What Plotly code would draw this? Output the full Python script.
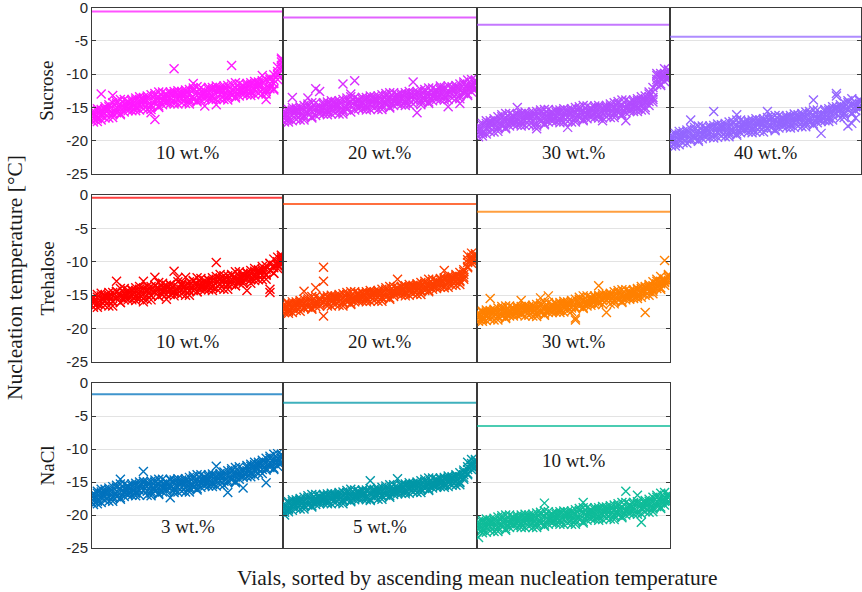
import plotly.graph_objects as go

# Vial index (vials sorted by ascending mean nucleation temperature)
vials = list(range(1, 51))

# ---- Sucrose: nucleation temperatures [°C], five freeze cycles per vial ----
sucrose_10_run1 = [-15.8,-16.5,-13.0,-16.6,-15.3,-16.5,-14.4,-15.1,-14.5,-15.5,
 -14.1,-14.9,-13.4,-15.2,-14.0,-15.3,-13.2,-14.0,-13.4,-14.4,
 -13.0,-9.2,-12.5,-14.3,-13.1,-14.5,-12.4,-13.2,-12.7,-13.7,
 -12.3,-13.3,-11.8,-13.7,-12.5,-13.9,-8.7,-12.6,-12.1,-13.1,
 -11.7,-12.6,-11.1,-12.9,-10.2,-13.0,-10.8,-11.4,-9.6,-9.0]
sucrose_10_run2 = [-17.2,-15.2,-16.2,-15.2,-16.6,-13.2,-15.8,-13.8,-15.1,-14.1,
 -15.5,-13.6,-14.7,-13.8,-15.3,-15.8,-16.8,-12.7,-14.0,-13.0,
 -14.4,-12.6,-13.8,-12.9,-14.4,-13.0,-13.8,-11.9,-13.3,-14.8,
 -13.7,-12.0,-14.6,-12.3,-13.8,-12.4,-13.2,-11.3,-12.7,-11.7,
 -13.1,-11.3,-12.4,-11.5,-13.0,-13.8,-12.2,-10.1,-10.2,-7.6]
sucrose_10_run3 = [-16.3,-17.1,-15.3,-15.4,-14.6,-15.8,-15.0,-15.9,-13.8,-15.2,
 -14.6,-15.5,-13.8,-14.0,-13.3,-14.6,-13.8,-14.8,-12.7,-14.1,
 -13.5,-14.5,-12.9,-13.1,-12.4,-13.8,-11.4,-14.0,-12.0,-13.4,
 -12.8,-13.9,-12.2,-12.5,-11.8,-13.2,-12.4,-13.4,-11.4,-12.8,
 -12.2,-13.2,-11.5,-11.7,-11.0,-12.3,-11.4,-12.2,-8.9,-8.7]
sucrose_10_run4 = [-16.7,-15.5,-16.9,-14.9,-16.0,-14.3,-15.4,-14.6,-15.7,-14.7,
 -15.0,-13.9,-15.4,-13.5,-14.7,-13.1,-14.2,-13.5,-14.6,-13.6,
 -13.9,-12.9,-14.5,-12.6,-13.8,-12.3,-13.4,-12.7,-13.9,-12.9,
 -13.2,-12.3,-13.8,-12.0,-13.2,-11.7,-12.8,-12.1,-13.3,-12.3,
 -12.6,-11.6,-13.1,-11.2,-12.4,-10.8,-11.8,-10.9,-10.8,-8.2]
sucrose_10_run5 = [-15.5,-16.7,-15.6,-15.9,-14.9,-16.1,-14.1,-16.1,-14.9,-14.3,
 -13.8,-15.1,-14.1,-14.5,-13.6,-14.9,-12.9,-15.0,-13.8,-13.2,
 -12.7,-14.1,-13.2,-13.6,-12.7,-14.1,-12.1,-14.2,-13.1,-12.5,
 -12.0,-13.5,-12.5,-13.0,-12.1,-13.5,-11.5,-13.6,-12.5,-11.9,
 -11.4,-12.8,-11.8,-12.2,-11.3,-12.6,-10.5,-12.4,-10.0,-7.8]

sucrose_20_run1 = [-17.2,-15.3,-13.5,-15.4,-16.9,-15.4,-13.6,-14.3,-12.2,-12.6,
 -16.0,-14.2,-15.3,-14.4,-16.0,-11.5,-15.3,-13.4,-11.0,-13.8,
 -15.2,-13.5,-14.6,-13.7,-15.3,-13.8,-14.6,-12.8,-14.1,-13.1,
 -14.6,-12.8,-13.9,-11.2,-15.8,-13.1,-14.0,-12.1,-13.4,-12.4,
 -13.8,-12.0,-13.1,-12.2,-13.7,-12.2,-12.9,-10.9,-12.1,-10.9]
sucrose_20_run2 = [-16.3,-17.2,-15.4,-15.6,-14.9,-16.2,-15.4,-16.4,-14.3,-15.7,
 -15.1,-16.1,-14.4,-14.6,-14.0,-15.3,-14.5,-13.0,-13.5,-14.9,
 -14.3,-15.4,-13.7,-13.9,-13.3,-14.6,-13.8,-14.9,-12.8,-14.2,
 -13.7,-14.7,-13.0,-13.3,-12.6,-13.9,-13.2,-14.2,-12.1,-13.5,
 -11.8,-13.9,-14.9,-12.4,-11.7,-14.4,-12.1,-13.0,-10.8,-12.0]
sucrose_20_run3 = [-15.8,-16.6,-15.0,-16.8,-15.6,-16.9,-14.8,-15.6,-15.0,-16.0,
 -14.6,-15.5,-14.0,-15.8,-14.7,-16.0,-13.9,-14.7,-14.2,-15.2,
 -13.8,-14.8,-13.3,-15.1,-14.0,-15.3,-13.2,-14.1,-13.5,-14.5,
 -13.2,-14.1,-12.6,-14.5,-13.3,-14.6,-12.6,-13.4,-12.8,-13.8,
 -12.4,-13.3,-11.8,-13.6,-12.4,-13.7,-11.5,-12.2,-11.5,-12.3]
sucrose_20_run4 = [-16.7,-15.6,-17.0,-15.1,-16.3,-14.7,-15.8,-15.1,-16.2,-15.2,
 -15.5,-14.5,-16.0,-14.1,-15.4,-13.8,-14.9,-14.2,-15.4,-14.4,
 -14.7,-13.8,-15.3,-13.4,-14.7,-13.1,-14.2,-13.6,-14.7,-13.7,
 -14.1,-13.1,-14.6,-12.8,-14.0,-12.4,-13.6,-12.9,-14.0,-13.0,
 -13.3,-12.3,-13.8,-11.9,-13.1,-11.5,-12.5,-11.7,-12.7,-11.5]
sucrose_20_run5 = [-15.5,-16.8,-15.7,-16.1,-15.2,-16.5,-14.5,-16.6,-15.4,-14.8,
 -14.3,-15.7,-14.7,-15.1,-14.3,-15.6,-13.6,-15.7,-14.6,-14.0,
 -13.5,-15.0,-14.0,-14.4,-13.6,-14.9,-12.9,-15.1,-13.9,-13.3,
 -12.9,-14.3,-13.3,-13.8,-12.9,-14.2,-12.3,-14.4,-13.2,-12.6,
 -12.1,-13.5,-12.5,-12.9,-12.0,-13.3,-11.2,-13.2,-11.9,-11.1]

sucrose_30_run1 = [-18.5,-19.3,-17.4,-17.5,-16.7,-17.9,-17.0,-18.0,-15.9,-17.3,
 -15.0,-17.8,-16.1,-16.4,-15.7,-18.2,-16.3,-17.4,-15.3,-16.8,
 -16.2,-17.3,-15.6,-18.0,-15.2,-16.5,-15.8,-16.8,-14.8,-16.2,
 -15.6,-16.6,-15.0,-15.2,-14.5,-15.8,-15.0,-16.0,-13.9,-15.3,
 -14.7,-15.6,-13.8,-13.8,-12.7,-13.5,-10.8,-11.5,-9.2,-10.4]
sucrose_30_run2 = [-18.0,-18.7,-17.0,-18.7,-17.4,-18.6,-16.4,-17.2,-16.6,-17.6,
 -16.2,-17.2,-15.7,-17.6,-16.4,-17.8,-15.7,-16.6,-16.0,-17.1,
 -15.7,-16.7,-15.2,-17.1,-15.9,-17.2,-15.2,-16.0,-15.5,-16.5,
 -15.1,-16.0,-17.0,-16.4,-15.2,-16.5,-14.4,-15.2,-17.0,-15.6,
 -14.2,-15.0,-13.4,-15.0,-13.4,-14.2,-10.2,-10.7,-9.9,-10.7]
sucrose_30_run3 = [-19.4,-17.4,-18.3,-17.3,-18.7,-17.1,-17.8,-15.9,-17.2,-16.2,
 -17.6,-15.9,-17.0,-16.2,-17.7,-16.3,-17.1,-15.3,-16.6,-15.7,
 -17.1,-15.4,-16.5,-15.7,-17.2,-15.7,-16.6,-14.7,-16.1,-15.1,
 -16.5,-14.7,-15.9,-15.0,-16.5,-15.0,-15.8,-13.9,-15.2,-14.2,
 -15.6,-13.7,-14.7,-15.4,-14.7,-12.7,-11.6,-9.9,-10.5,-9.3]
sucrose_30_run4 = [-18.9,-17.7,-19.0,-17.0,-18.1,-16.4,-17.4,-16.7,-17.8,-16.8,
 -17.1,-16.2,-17.7,-15.9,-17.1,-15.6,-16.7,-16.1,-17.2,-16.3,
 -16.6,-15.7,-17.2,-15.4,-16.6,-15.0,-16.2,-15.5,-16.7,-15.7,
 -16.0,-15.0,-16.6,-14.7,-15.9,-14.3,-15.4,-14.7,-15.8,-14.8,
 -15.1,-14.0,-15.4,-13.3,-14.1,-12.0,-11.2,-10.2,-11.1,-9.9]
sucrose_30_run5 = [-17.7,-18.9,-17.7,-18.0,-17.0,-18.2,-16.1,-18.2,-17.0,-16.4,
 -15.9,-17.4,-16.4,-16.9,-16.0,-17.4,-15.4,-17.6,-16.4,-15.9,
 -15.4,-16.9,-15.9,-16.4,-15.5,-16.8,-14.9,-17.0,-15.9,-15.3,
 -14.8,-16.2,-15.3,-15.7,-14.8,-16.1,-14.1,-16.2,-15.0,-14.4,
 -13.9,-15.2,-14.1,-14.3,-13.0,-13.8,-9.9,-11.7,-10.3,-9.5]

sucrose_40_run1 = [-19.4,-20.2,-18.6,-20.3,-19.1,-16.9,-18.3,-19.1,-18.5,-19.5,
 -18.1,-15.6,-17.5,-19.3,-18.1,-19.4,-17.4,-16.1,-17.6,-18.6,
 -17.3,-18.2,-16.7,-18.6,-17.4,-15.6,-16.7,-17.5,-16.9,-17.9,
 -16.6,-17.5,-16.0,-17.8,-16.6,-17.9,-15.9,-13.9,-16.1,-17.1,
 -15.6,-16.5,-14.9,-12.9,-15.3,-16.5,-14.3,-17.4,-14.3,-15.2]
sucrose_40_run2 = [-20.8,-18.9,-19.9,-18.9,-20.4,-18.9,-19.7,-17.8,-19.1,-18.1,
 -19.5,-17.7,-18.8,-17.9,-19.4,-17.9,-18.8,-16.9,-18.2,-17.2,
 -18.7,-16.9,-18.0,-17.2,-18.7,-17.2,-18.1,-16.2,-17.5,-16.5,
 -18.0,-16.2,-17.3,-16.4,-17.9,-16.4,-17.3,-15.4,-16.7,-18.9,
 -17.0,-15.2,-16.2,-15.2,-16.6,-15.0,-17.8,-13.7,-14.9,-13.8]
sucrose_40_run3 = [-19.9,-20.8,-19.0,-19.1,-18.4,-19.7,-18.9,-19.9,-17.8,-19.2,
 -18.6,-19.6,-17.9,-18.1,-17.4,-18.7,-18.0,-19.0,-16.9,-18.3,
 -17.8,-18.8,-17.1,-17.4,-16.7,-18.1,-17.3,-18.3,-16.2,-17.6,
 -17.1,-18.1,-16.4,-16.6,-15.9,-17.2,-16.5,-17.5,-15.4,-16.8,
 -16.1,-17.1,-15.3,-13.3,-14.6,-15.8,-14.9,-15.8,-16.6,-14.9]
sucrose_40_run4 = [-20.3,-19.2,-20.6,-18.6,-19.8,-18.2,-19.3,-18.6,-19.7,-18.7,
 -19.0,-18.0,-19.5,-17.6,-18.8,-17.2,-18.4,-17.7,-18.8,-17.8,
 -18.2,-17.2,-18.7,-16.9,-18.1,-16.5,-17.7,-17.0,-18.1,-17.1,
 -17.5,-16.5,-18.0,-16.1,-17.3,-15.7,-16.9,-16.2,-17.3,-16.3,
 -16.5,-15.5,-16.9,-14.9,-16.0,-14.3,-15.3,-14.5,-15.5,-14.4]
sucrose_40_run5 = [-19.1,-20.4,-19.3,-19.6,-18.7,-20.0,-18.0,-20.1,-18.9,-18.3,
 -17.8,-19.2,-18.2,-18.6,-17.7,-19.0,-17.1,-19.2,-18.0,-17.4,
 -17.0,-18.4,-17.4,-17.9,-17.0,-18.3,-16.4,-18.5,-17.3,-16.7,
 -16.3,-17.7,-16.7,-17.1,-16.2,-17.5,-15.6,-17.7,-16.5,-15.9,
 -15.3,-16.7,-15.6,-15.9,-14.9,-16.1,-14.0,-16.0,-14.7,-14.0]

# ---- Trehalose ----
trehalose_10_run1 = [-16.8,-14.9,-16.0,-15.1,-16.6,-15.1,-12.9,-14.0,-15.3,-14.3,
 -15.7,-13.9,-15.0,-12.9,-15.7,-14.2,-12.3,-13.1,-14.5,-13.5,
 -14.9,-11.4,-14.3,-13.4,-15.0,-13.5,-14.3,-12.4,-13.8,-12.8,
 -14.2,-12.4,-10.1,-12.6,-14.1,-12.6,-13.4,-11.5,-12.8,-11.8,
 -14.3,-11.3,-12.3,-11.3,-12.7,-11.1,-14.1,-9.6,-10.6,-9.1]
trehalose_10_run2 = [-15.9,-16.8,-15.1,-15.3,-14.6,-15.9,-15.1,-16.1,-14.0,-15.4,
 -14.8,-15.8,-14.1,-16.0,-13.7,-15.0,-14.2,-15.2,-13.2,-15.6,
 -14.0,-15.1,-12.4,-13.6,-12.3,-14.3,-13.5,-14.5,-12.5,-13.9,
 -13.3,-14.3,-12.6,-11.9,-12.1,-13.4,-12.6,-13.6,-11.5,-12.9,
 -12.2,-13.2,-11.4,-11.5,-10.7,-11.9,-14.6,-11.7,-9.3,-10.2]
trehalose_10_run3 = [-15.4,-16.2,-14.7,-16.5,-15.3,-16.6,-14.5,-15.3,-14.7,-15.7,
 -14.3,-15.2,-13.7,-15.5,-14.4,-15.7,-13.6,-14.4,-13.9,-14.9,
 -13.5,-14.5,-13.0,-14.8,-13.7,-15.0,-12.9,-13.7,-13.2,-14.2,
 -12.8,-13.7,-12.2,-14.0,-12.8,-14.1,-12.0,-12.8,-12.2,-13.2,
 -11.7,-12.6,-11.0,-12.7,-11.4,-12.6,-10.3,-10.9,-10.0,-9.0]
trehalose_10_run4 = [-16.2,-15.3,-16.5,-15.0,-15.9,-14.6,-15.5,-14.9,-15.7,-14.9,
 -15.1,-14.3,-15.5,-14.0,-15.0,-13.7,-14.6,-14.0,-14.9,-14.1,
 -14.3,-13.6,-14.8,-13.3,-14.3,-13.0,-13.9,-13.3,-14.2,-13.4,
 -13.6,-12.8,-14.0,-12.5,-13.4,-12.1,-13.0,-12.4,-13.2,-12.4,
 -12.5,-11.7,-12.8,-11.2,-12.0,-10.6,-11.3,-10.5,-11.0,-9.7]
trehalose_10_run5 = [-15.3,-16.3,-15.5,-15.8,-15.0,-16.0,-14.4,-16.1,-15.1,-14.6,
 -14.2,-15.3,-14.5,-14.8,-14.1,-15.1,-13.5,-15.2,-14.3,-13.8,
 -13.4,-14.6,-13.8,-14.1,-13.4,-14.4,-12.8,-14.5,-13.6,-13.1,
 -12.7,-13.8,-13.0,-13.3,-12.5,-13.5,-11.9,-13.6,-12.6,-12.1,
 -11.6,-12.7,-11.8,-12.0,-11.1,-12.0,-10.2,-11.7,-10.4,-9.4]

trehalose_20_run1 = [-16.5,-17.2,-16.0,-17.3,-16.3,-14.4,-15.7,-16.3,-13.9,-16.6,
 -10.8,-16.1,-15.0,-16.4,-15.4,-16.6,-14.9,-15.6,-15.1,-15.9,
 -14.8,-15.5,-14.3,-15.8,-14.8,-15.9,-14.2,-14.8,-14.3,-12.6,
 -13.9,-14.6,-13.4,-14.8,-13.8,-14.9,-13.2,-13.7,-13.2,-14.0,
 -12.7,-11.3,-12.2,-13.5,-12.4,-13.4,-11.5,-10.1,-9.3,-10.0]
trehalose_20_run2 = [-17.6,-16.2,-17.0,-16.2,-17.4,-16.2,-16.8,-15.2,-16.3,-15.4,
 -12.9,-15.1,-16.0,-15.3,-16.5,-15.4,-16.0,-14.5,-15.6,-14.7,
 -15.9,-14.5,-15.3,-14.7,-15.9,-14.7,-15.3,-13.7,-14.8,-13.9,
 -15.0,-13.6,-14.4,-13.7,-14.9,-13.7,-14.3,-12.6,-13.7,-12.8,
 -13.8,-12.4,-13.2,-12.4,-13.5,-12.2,-12.6,-9.0,-9.8,-8.8]
trehalose_20_run3 = [-16.9,-17.7,-16.3,-16.4,-15.8,-16.8,-16.1,-16.9,-15.2,-16.3,
 -18.1,-16.6,-15.3,-15.5,-14.9,-16.0,-15.3,-16.2,-14.5,-15.6,
 -15.2,-16.0,-14.6,-14.9,-14.3,-15.3,-14.6,-15.4,-13.7,-14.8,
 -14.3,-15.1,-13.7,-13.9,-13.3,-14.3,-13.6,-14.3,-12.6,-13.7,
 -13.1,-13.9,-12.5,-12.6,-11.9,-12.8,-11.9,-10.7,-8.7,-9.7]
trehalose_20_run4 = [-17.2,-16.4,-17.6,-16.0,-16.9,-15.6,-16.5,-15.9,-16.7,-15.9,
 -16.1,-15.3,-16.6,-15.1,-16.0,-14.8,-15.7,-15.2,-16.0,-15.2,
 -15.5,-14.7,-15.9,-14.5,-15.4,-14.1,-15.0,-14.4,-15.2,-14.4,
 -14.6,-13.8,-15.0,-13.5,-14.4,-13.1,-14.0,-13.3,-14.1,-13.3,
 -13.4,-12.6,-13.8,-12.2,-13.0,-11.6,-12.3,-9.7,-10.2,-9.3]
trehalose_20_run5 = [-16.3,-17.4,-16.6,-16.8,-16.0,-17.0,-15.4,-17.1,-16.1,-15.6,
 -15.2,-16.3,-15.6,-15.9,-15.1,-16.2,-14.6,-16.4,-15.4,-14.9,
 -14.6,-15.7,-14.9,-15.3,-14.5,-15.5,-13.9,-15.6,-14.6,-14.1,
 -13.7,-14.8,-14.0,-14.3,-13.5,-14.5,-12.9,-14.5,-13.5,-13.0,
 -12.5,-13.6,-12.8,-13.0,-12.1,-13.0,-11.2,-10.9,-9.6,-9.0]

trehalose_30_run1 = [-18.2,-18.9,-17.5,-15.5,-17.1,-18.1,-17.4,-18.3,-16.6,-17.8,
 -17.3,-15.8,-16.8,-17.1,-16.5,-17.6,-15.4,-17.8,-16.1,-17.3,
 -16.8,-17.6,-16.2,-16.4,-15.8,-16.8,-16.0,-16.8,-15.1,-16.2,
 -15.7,-13.6,-15.1,-15.3,-14.7,-15.7,-15.0,-15.9,-14.2,-15.3,
 -14.8,-15.5,-14.0,-17.6,-13.4,-14.2,-13.3,-13.9,-9.8,-12.8]
trehalose_30_run2 = [-17.8,-18.4,-17.2,-18.6,-17.6,-18.7,-17.0,-17.7,-17.2,-18.1,
 -16.9,-17.7,-16.5,-18.0,-17.0,-18.2,-16.5,-17.2,-15.1,-17.6,
 -16.4,-17.1,-15.9,-17.3,-16.3,-18.7,-15.6,-16.2,-15.7,-16.5,
 -15.3,-16.0,-14.8,-17.6,-15.2,-16.3,-14.6,-15.3,-14.8,-15.6,
 -14.4,-15.0,-13.7,-15.0,-13.9,-14.8,-12.9,-13.3,-12.6,-13.1]
trehalose_30_run3 = [-18.9,-17.4,-18.2,-17.5,-18.7,-17.5,-18.1,-16.6,-17.7,-16.9,
 -18.0,-16.7,-17.5,-16.9,-18.1,-17.0,-17.6,-16.1,-17.2,-16.4,
 -17.5,-16.1,-16.9,-16.2,-17.4,-18.4,-16.7,-15.1,-16.2,-15.3,
 -16.4,-15.0,-15.8,-15.1,-16.3,-15.1,-15.7,-14.2,-15.3,-14.4,
 -15.5,-14.0,-14.7,-13.9,-15.0,-13.6,-14.0,-12.2,-13.1,-11.9]
trehalose_30_run4 = [-18.5,-17.6,-18.8,-17.3,-18.2,-16.9,-17.8,-17.3,-18.1,-17.4,
 -17.6,-16.9,-18.1,-16.7,-17.6,-16.4,-17.3,-16.8,-17.6,-16.9,
 -17.1,-16.3,-17.5,-16.0,-16.9,-15.6,-16.4,-15.8,-16.6,-15.8,
 -16.0,-15.2,-16.4,-14.9,-15.8,-14.5,-15.4,-14.9,-15.7,-14.9,
 -15.1,-14.2,-15.3,-13.7,-14.5,-13.0,-13.7,-12.9,-13.5,-12.4]
trehalose_30_run5 = [-17.6,-18.6,-17.8,-18.1,-17.3,-18.3,-16.7,-18.5,-17.5,-17.1,
 -16.7,-17.9,-17.1,-17.5,-16.7,-17.8,-16.2,-18.0,-17.0,-16.6,
 -16.2,-17.3,-16.5,-16.8,-16.0,-17.0,-15.3,-17.0,-16.0,-15.5,
 -15.1,-16.2,-15.4,-15.7,-14.9,-15.9,-14.3,-16.1,-15.1,-14.6,
 -14.2,-15.2,-14.3,-14.5,-13.6,-14.4,-12.6,-14.1,-12.9,-12.1]

# ---- NaCl ----
nacl_3_run1 = [-17.0,-17.7,-16.1,-17.8,-16.6,-17.9,-15.8,-14.6,-16.0,-17.0,
 -15.6,-16.5,-15.0,-13.4,-15.7,-17.1,-15.0,-15.9,-15.3,-16.4,
 -17.4,-16.0,-14.5,-16.4,-15.2,-16.5,-14.4,-15.2,-14.6,-15.6,
 -14.2,-15.1,-12.6,-15.4,-14.2,-16.6,-13.3,-14.1,-13.4,-14.3,
 -12.8,-13.6,-12.0,-13.7,-12.4,-15.1,-11.4,-12.1,-11.4,-12.2]
nacl_3_run2 = [-18.4,-16.4,-17.4,-16.4,-17.9,-16.4,-17.2,-15.3,-16.6,-15.6,
 -17.0,-15.2,-16.3,-14.9,-17.0,-15.6,-16.4,-14.6,-15.9,-15.0,
 -14.6,-14.7,-15.8,-15.0,-16.5,-15.0,-15.8,-13.9,-15.2,-14.2,
 -15.6,-13.8,-14.9,-14.0,-15.5,-14.0,-14.7,-12.8,-14.0,-15.9,
 -14.2,-12.3,-13.3,-12.3,-13.7,-12.1,-12.8,-10.8,-12.0,-10.8]
nacl_3_run3 = [-17.5,-18.3,-16.5,-16.6,-15.9,-17.2,-16.4,-17.4,-15.3,-16.7,
 -16.1,-17.1,-15.4,-15.7,-15.0,-16.4,-15.6,-16.7,-14.6,-16.1,
 -15.5,-16.6,-14.9,-15.2,-14.5,-15.8,-15.0,-16.0,-13.9,-15.3,
 -14.7,-15.7,-14.0,-14.2,-13.5,-14.8,-13.9,-14.9,-12.7,-14.0,
 -13.3,-14.2,-12.4,-12.5,-11.7,-12.9,-12.0,-12.9,-10.7,-11.9]
nacl_3_run4 = [-17.9,-16.7,-18.1,-16.1,-17.3,-15.7,-16.8,-16.1,-17.2,-16.2,
 -16.5,-15.5,-17.0,-15.2,-16.4,-14.9,-16.0,-15.4,-16.5,-15.6,
 -15.9,-15.0,-16.5,-14.7,-15.9,-14.3,-15.4,-14.7,-15.8,-14.8,
 -15.1,-14.1,-15.6,-13.7,-14.9,-13.3,-14.3,-13.6,-14.6,-13.5,
 -13.7,-12.6,-14.0,-12.0,-13.1,-11.4,-12.4,-11.6,-12.6,-11.4]
nacl_3_run5 = [-16.7,-17.9,-16.8,-17.1,-16.2,-17.5,-15.5,-17.6,-16.4,-15.8,
 -15.3,-16.7,-15.7,-16.2,-15.3,-16.7,-14.7,-16.9,-15.7,-15.2,
 -14.7,-16.2,-15.2,-15.7,-14.8,-16.1,-14.1,-16.2,-15.0,-14.4,
 -13.9,-15.3,-14.3,-14.7,-13.8,-15.1,-13.0,-15.1,-13.8,-13.1,
 -12.5,-13.8,-12.7,-13.0,-12.0,-13.2,-11.1,-13.1,-11.8,-11.0]

nacl_5_run1 = [-19.6,-18.0,-18.7,-17.9,-19.1,-17.9,-18.5,-16.9,-18.0,-17.1,
 -18.2,-16.8,-17.7,-17.0,-18.2,-17.1,-17.7,-16.1,-17.3,-16.4,
 -17.5,-16.2,-14.8,-16.3,-17.6,-16.4,-17.0,-15.4,-16.5,-14.5,
 -16.7,-15.3,-16.1,-15.4,-16.6,-15.4,-16.0,-14.4,-15.5,-14.6,
 -15.7,-14.3,-15.1,-14.4,-15.5,-14.2,-14.6,-12.0,-12.7,-11.6]
nacl_5_run2 = [-18.9,-19.5,-18.0,-18.1,-17.5,-18.5,-17.8,-18.6,-16.9,-18.0,
 -17.5,-18.3,-17.0,-17.2,-16.6,-17.7,-17.0,-17.8,-16.2,-17.3,
 -16.8,-17.7,-17.8,-16.5,-16.0,-17.0,-16.3,-17.1,-15.4,-16.5,
 -16.0,-16.8,-15.4,-15.6,-15.0,-16.0,-15.3,-16.1,-14.4,-15.5,
 -15.0,-15.8,-14.4,-14.6,-13.9,-15.1,-13.9,-13.7,-11.6,-12.5]
nacl_5_run3 = [-20.0,-19.0,-17.7,-19.0,-18.0,-19.1,-17.4,-18.0,-17.5,-18.3,
 -17.1,-17.8,-16.7,-18.1,-17.1,-18.3,-16.6,-17.2,-16.8,-17.6,
 -16.4,-17.2,-16.0,-17.4,-16.5,-17.6,-15.9,-16.5,-16.0,-16.8,
 -15.6,-16.3,-15.1,-16.5,-15.5,-16.6,-14.9,-15.5,-15.0,-15.8,
 -14.6,-15.3,-14.1,-15.5,-14.4,-15.4,-13.5,-13.1,-12.2,-12.8]
nacl_5_run4 = [-19.2,-18.2,-19.3,-17.7,-18.6,-17.3,-18.2,-17.6,-18.4,-17.6,
 -17.8,-17.0,-18.3,-16.8,-17.7,-16.5,-17.4,-16.8,-17.7,-16.9,
 -17.1,-16.4,-17.6,-16.1,-17.1,-15.8,-16.7,-16.1,-16.9,-16.1,
 -16.3,-15.5,-16.7,-15.2,-16.1,-14.8,-15.7,-15.1,-15.9,-15.1,
 -15.3,-14.5,-15.7,-14.2,-15.0,-13.6,-14.3,-12.7,-13.1,-12.1]
nacl_5_run5 = [-18.3,-19.2,-18.3,-18.5,-17.7,-18.7,-17.1,-18.8,-17.8,-17.3,
 -16.9,-18.0,-17.3,-17.6,-16.8,-17.9,-16.3,-18.0,-17.1,-16.6,
 -16.2,-17.4,-16.6,-16.9,-16.2,-17.2,-15.6,-17.3,-16.3,-15.8,
 -15.4,-16.5,-15.7,-16.0,-15.2,-16.2,-14.6,-16.3,-15.3,-14.8,
 -14.4,-15.5,-14.7,-15.0,-14.1,-15.0,-13.2,-13.9,-12.5,-11.8]

nacl_10_run1 = [-21.3,-22.1,-20.6,-22.4,-21.2,-22.5,-20.4,-21.3,-20.7,-21.7,
 -20.4,-21.3,-19.9,-21.7,-20.6,-21.9,-19.9,-18.2,-20.2,-21.2,
 -19.9,-20.8,-19.4,-21.2,-20.1,-21.4,-19.3,-18.1,-19.6,-20.6,
 -19.2,-20.2,-18.7,-20.5,-19.3,-20.7,-18.6,-19.4,-16.4,-19.8,
 -18.4,-17.0,-21.1,-19.5,-18.3,-19.5,-17.3,-18.0,-17.3,-18.2]
nacl_10_run2 = [-23.4,-20.8,-21.9,-21.0,-22.5,-21.0,-21.8,-20.0,-21.3,-20.3,
 -21.8,-20.0,-21.2,-20.3,-21.9,-20.4,-21.3,-19.4,-20.8,-19.8,
 -21.3,-19.5,-20.7,-19.8,-21.4,-19.9,-20.7,-18.9,-20.2,-19.2,
 -20.6,-18.9,-20.0,-19.1,-20.6,-19.2,-20.0,-18.1,-19.4,-18.4,
 -19.8,-18.0,-19.1,-18.1,-19.6,-18.0,-18.7,-16.7,-17.9,-16.8]
nacl_10_run3 = [-21.8,-22.7,-21.0,-21.2,-20.5,-21.8,-21.0,-22.1,-20.0,-21.4,
 -20.9,-21.9,-20.3,-20.5,-19.9,-21.2,-20.5,-21.5,-19.5,-20.9,
 -20.4,-21.4,-19.8,-20.0,-19.4,-20.7,-19.9,-21.0,-18.9,-20.3,
 -19.7,-20.8,-19.1,-19.3,-18.6,-20.0,-19.2,-20.2,-18.1,-19.5,
 -18.9,-19.9,-18.2,-18.3,-17.6,-18.8,-17.9,-18.8,-16.6,-17.9]
nacl_10_run4 = [-22.2,-21.1,-22.6,-20.7,-21.9,-20.3,-21.4,-20.8,-21.9,-20.9,
 -21.3,-20.3,-21.9,-20.0,-21.3,-19.7,-20.9,-20.2,-21.4,-20.4,
 -20.8,-19.8,-21.4,-19.5,-20.8,-19.2,-20.3,-19.7,-20.8,-19.8,
 -20.1,-19.2,-20.7,-18.8,-20.0,-18.5,-19.6,-18.9,-20.0,-19.0,
 -19.3,-18.3,-19.8,-17.8,-19.0,-17.3,-18.3,-17.5,-18.5,-17.4]
nacl_10_run5 = [-21.0,-22.3,-21.3,-21.7,-20.8,-22.1,-20.1,-22.3,-21.1,-20.5,
 -20.1,-21.5,-20.6,-21.0,-20.2,-21.5,-19.6,-21.7,-20.6,-20.0,
 -19.6,-21.0,-20.1,-20.5,-19.7,-21.0,-19.0,-21.2,-20.0,-19.4,
 -18.9,-20.4,-19.4,-19.8,-18.9,-20.3,-18.3,-20.4,-19.2,-18.6,
 -18.1,-19.5,-18.5,-18.8,-17.9,-19.1,-17.0,-19.0,-17.7,-17.0]

# Equilibrium freezing temperatures [°C]
eq_sucrose = [-0.6, -1.5, -2.6, -4.4]
eq_trehalose = [-0.4, -1.35, -2.5]
eq_nacl = [-1.7, -3.0, -6.5]

# Concentration labels
conc_sucrose = ["10 wt.%", "20 wt.%", "30 wt.%", "40 wt.%"]
conc_trehalose = ["10 wt.%", "20 wt.%", "30 wt.%"]
conc_nacl = ["3 wt.%", "5 wt.%", "10 wt.%"]

solutes = ["Sucrose", "Trehalose", "NaCl"]

# ---------------------------------------------------------------------------
W, H = 862, 592
col_px = [92, 283, 477, 670, 861]
row_px = [(7.5, 174), (195, 362), (383, 548)]

SERIF = "Liberation Serif"
SANS = "Liberation Sans"
TEXT = "#1a1a1a"

sucrose_runs = [
    [sucrose_10_run1, sucrose_10_run2, sucrose_10_run3, sucrose_10_run4, sucrose_10_run5],
    [sucrose_20_run1, sucrose_20_run2, sucrose_20_run3, sucrose_20_run4, sucrose_20_run5],
    [sucrose_30_run1, sucrose_30_run2, sucrose_30_run3, sucrose_30_run4, sucrose_30_run5],
    [sucrose_40_run1, sucrose_40_run2, sucrose_40_run3, sucrose_40_run4, sucrose_40_run5],
]
trehalose_runs = [
    [trehalose_10_run1, trehalose_10_run2, trehalose_10_run3, trehalose_10_run4, trehalose_10_run5],
    [trehalose_20_run1, trehalose_20_run2, trehalose_20_run3, trehalose_20_run4, trehalose_20_run5],
    [trehalose_30_run1, trehalose_30_run2, trehalose_30_run3, trehalose_30_run4, trehalose_30_run5],
]
nacl_runs = [
    [nacl_3_run1, nacl_3_run2, nacl_3_run3, nacl_3_run4, nacl_3_run5],
    [nacl_5_run1, nacl_5_run2, nacl_5_run3, nacl_5_run4, nacl_5_run5],
    [nacl_10_run1, nacl_10_run2, nacl_10_run3, nacl_10_run4, nacl_10_run5],
]

colors = [
    ["#ff19ff", "#d92eff", "#b24cff", "#9466ff"],
    ["#ff0000", "#ff4000", "#ff8000"],
    ["#0072bd", "#0097a7", "#0fbc99"],
]
label_y = [[-21.8] * 4, [-22.0] * 3, [-21.8, -21.8, -11.8]]

panels = []
for r, (runs_row, eq_row, conc_row) in enumerate(
        [(sucrose_runs, eq_sucrose, conc_sucrose),
         (trehalose_runs, eq_trehalose, conc_trehalose),
         (nacl_runs, eq_nacl, conc_nacl)]):
    for c in range(len(runs_row)):
        panels.append((r, c, runs_row[c], eq_row[c], colors[r][c],
                       conc_row[c], label_y[r][c]))

x_range = [0.6, 50.4]
fig = go.Figure()
annotations = []

for k, (r, c, runs, eq, color, label, ly) in enumerate(panels, start=1):
    xa = "x" if k == 1 else f"x{k}"
    ya = "y" if k == 1 else f"y{k}"
    for run in runs:
        fig.add_trace(go.Scatter(
            x=vials, y=run, xaxis=xa, yaxis=ya, mode="markers",
            marker=dict(symbol="x-thin", size=9, color=color,
                        line=dict(color=color, width=1.4)),
            showlegend=False, hoverinfo="skip"))
    fig.add_trace(go.Scatter(
        x=x_range, y=[eq, eq], xaxis=xa, yaxis=ya, mode="lines",
        line=dict(color=color, width=2), opacity=0.75,
        showlegend=False, hoverinfo="skip"))

    x0, x1 = col_px[c] / W, col_px[c + 1] / W
    top, bot = row_px[r]
    y0, y1 = 1 - bot / H, 1 - top / H
    sfx = "" if k == 1 else str(k)
    fig.layout[f"xaxis{sfx}"] = dict(
        domain=[x0, x1], anchor=ya, range=x_range, automargin=False,
        showline=True, mirror=True, linecolor="#3a3a3a", linewidth=1,
        showgrid=False, zeroline=False, ticks="", showticklabels=False)
    fig.layout[f"yaxis{sfx}"] = dict(
        domain=[y0, y1], anchor=xa, range=[-25, 0], automargin=False,
        tickvals=[0, -5, -10, -15, -20, -25],
        ticktext=["0", "-5", "-10", "-15", "-20", "-25"],
        showticklabels=(c == 0), ticklabeloverflow="allow",
        ticks="inside", ticklen=4, tickcolor="#3a3a3a", tickwidth=1,
        showline=True, mirror="ticks", linecolor="#3a3a3a", linewidth=1,
        showgrid=True, gridcolor="#e3e3e3", gridwidth=1, zeroline=False,
        tickfont=dict(family=SANS, size=15, color="#262626"))
    annotations.append(dict(
        x=25.5, y=ly, xref=xa, yref=ya, text=label, showarrow=False,
        xanchor="center", yanchor="middle",
        font=dict(family=SERIF, size=19, color=TEXT)))

for r, name in enumerate(solutes):
    top, bot = row_px[r]
    annotations.append(dict(
        x=47 / W, y=1 - (top + bot) / 2 / H, xref="paper", yref="paper",
        text=name, textangle=-90, showarrow=False,
        xanchor="center", yanchor="middle",
        font=dict(family=SERIF, size=19, color=TEXT)))

annotations.append(dict(
    x=15 / W, y=1 - 278 / H, xref="paper", yref="paper",
    text="Nucleation temperature [°C]", textangle=-90, showarrow=False,
    xanchor="center", yanchor="middle",
    font=dict(family=SERIF, size=21.5, color=TEXT)))
annotations.append(dict(
    x=477 / W, y=1 - 578 / H, xref="paper", yref="paper",
    text="Vials, sorted by ascending mean nucleation temperature",
    showarrow=False, xanchor="center", yanchor="middle",
    font=dict(family=SERIF, size=21.5, color=TEXT)))

fig.update_layout(
    width=W, height=H, margin=dict(l=0, r=0, t=0, b=0, autoexpand=False),
    paper_bgcolor="white", plot_bgcolor="white",
    showlegend=False, annotations=annotations)

fig.write_html("out.html")
